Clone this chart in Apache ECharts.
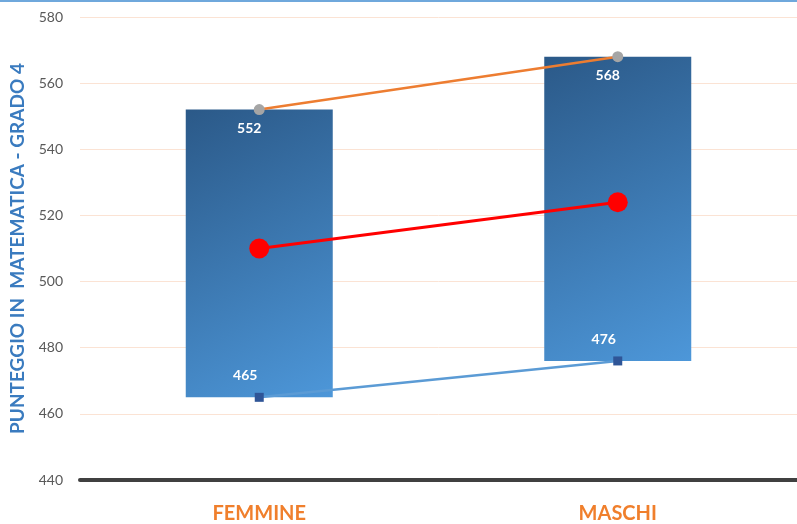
<!DOCTYPE html>
<html><head><meta charset="utf-8">
<script src="https://cdn.jsdelivr.net/npm/echarts@6/dist/echarts.min.js"></script>
<style>html,body{margin:0;padding:0;background:#fff}#c{width:797px;height:524px}</style>
</head><body><div id="c"></div>
<script>
var categories = ['FEMMINE', 'MASCHI'];
var lowerValues = [465, 476];
var upperValues = [552, 568];
var meanValues = [510, 524];
var yTicks = [440, 460, 480, 500, 520, 540, 560, 580];

var rangeValues = upperValues.map(function (v, i) { return v - lowerValues[i]; });
var chart = echarts.init(document.getElementById('c'));
chart.setOption({
  animation: false,
  backgroundColor: '#fff',
  graphic: [{ type: 'rect', shape: { x: 0, y: 0, width: 797, height: 2 }, style: { fill: '#6fa8dc' } }],
  grid: { left: 80, right: 0, top: 17, bottom: 44 },
  xAxis: {
    type: 'category', data: categories,
    axisLine: { lineStyle: { color: '#404040', width: 4 } },
    axisTick: { show: false },
    axisLabel: { color: '#f07f2c', fontWeight: 'bold', fontSize: 20, fontFamily: 'Lato', margin: 24 }
  },
  yAxis: {
    type: 'value', min: yTicks[0], max: yTicks[yTicks.length - 1], interval: 20,
    name: 'PUNTEGGIO IN  MATEMATICA - GRADO 4', nameLocation: 'middle', nameGap: 52, nameRotate: 90,
    nameTextStyle: { color: '#3a7bbf', fontWeight: 'bold', fontSize: 19, fontFamily: 'Lato' },
    axisLine: { show: false }, axisTick: { show: false },
    axisLabel: { color: '#595959', fontSize: 14, fontFamily: 'Lato', margin: 17 },
    splitLine: { lineStyle: { color: '#fbe3d4', width: 1 } }
  },
  series: [
    { type: 'bar', stack: 'r', data: lowerValues, barWidth: 147, itemStyle: { color: 'rgba(0,0,0,0)' }, silent: true },
    { type: 'bar', stack: 'r', data: rangeValues, barWidth: 147,
      itemStyle: { color: new echarts.graphic.LinearGradient(0, 0, 1, 1, [
        { offset: 0, color: '#2b5988' }, { offset: 1, color: '#4d97d9' }]) } },
    { type: 'line', data: upperValues, symbol: 'circle', symbolSize: 11,
      lineStyle: { color: '#ed7d31', width: 2.5 }, itemStyle: { color: '#a5a5a5' },
      label: { show: true, position: 'bottom', distance: 6, offset: [-10, 0], color: '#fff', fontWeight: 'bold', fontSize: 14, fontFamily: 'Lato' } },
    { type: 'line', data: lowerValues, symbol: 'rect', symbolSize: 9,
      lineStyle: { color: '#5b9bd5', width: 2.5 }, itemStyle: { color: '#2f5597' },
      label: { show: true, position: 'top', distance: 10, offset: [-14, 0], color: '#fff', fontWeight: 'bold', fontSize: 14, fontFamily: 'Lato' } },
    { type: 'line', data: meanValues, symbol: 'circle', symbolSize: 20,
      lineStyle: { color: '#ff0000', width: 3 }, itemStyle: { color: '#ff0000' } }
  ]
});
</script></body></html>
